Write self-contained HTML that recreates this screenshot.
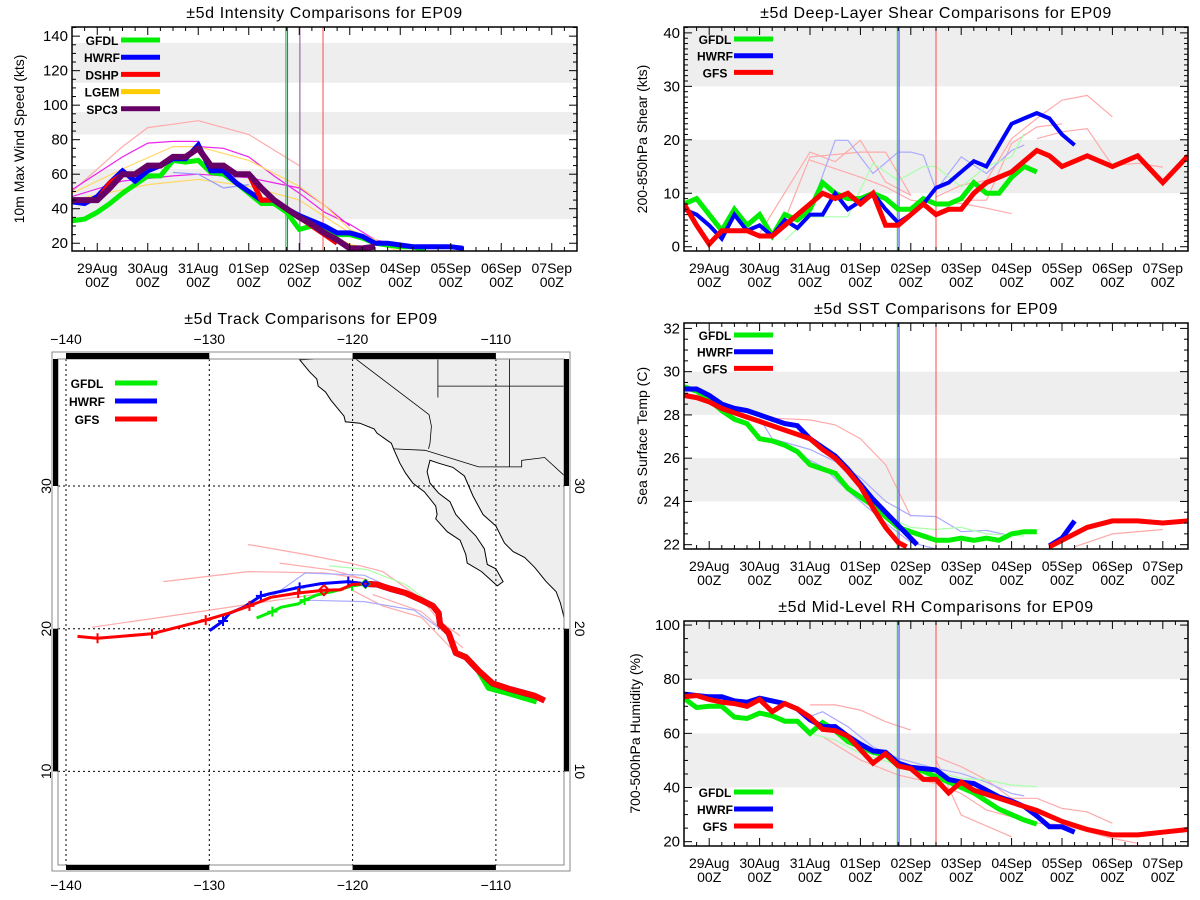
<!DOCTYPE html>
<html><head><meta charset="utf-8"><style>
html,body{margin:0;padding:0;background:#fff;}
svg{display:block;font-family:"Liberation Sans",sans-serif;}
</style></head><body>
<svg id="root" width="1200" height="900" viewBox="0 0 1200 900" xmlns="http://www.w3.org/2000/svg"></svg>
<script>
// ---------- Data (hours since 28Aug 12Z; 6-hourly unless hours given) ----------
const dayLabels = ["29Aug","30Aug","31Aug","01Sep","02Sep","03Sep","04Sep","05Sep","06Sep","07Sep"];
// Intensity (kts)
const intGFDL = [33,34,38,43,49,54,59,59,68,67,68,61,60,55,49,43,43,38,28,30,27,25,25,23,20,19,18,18,16];
const intHWRF = [44,43,47,55,62,56,62,65,69,69,77,62,62,55,50,45,45,40,36,33,30,26,26,24,20,20,19,18,18,18,18,17];
const intDSHP = [45,45,45,55,60,60,65,65,70,70,75,65,65,60,60,45,45,40,35,30,25,20];
const intLGEM = [45,45,45,52,60,60,65,65,70,70,75,65,65,60,60,52,45,40,35,30,26,22,18,17];
const intSPC3 = [45,45,45,52,60,60,65,65,70,70,75,65,65,60,60,52,45,40,35,31,26,22,17,17,18];
const intThinHours = [[0,24,36,48,60,84,108],[0,24,36,48,60],[60,72,84,96,108,120,132,144,156],[0,24,48,60,84,108,120,132],[0,24,48,60,84,108,120,132,156],[0,36,60,84,108,132,156],[48,60,72,84]];
const intThinVals = [[50,76,87,89,91,83,65],[51,70,78,79,79],[76,75,70,59,49,38,31,22,19],[47,56,59,60,58,52,42,30],[49,63,76,76,68,53,42,28,16],[45,54,57,53,45,26,15],[61,60,52,54]];
const intThinColors = ["#ffaaaa","#ee22ee","#ee22ee","#ee22ee","#ffd966","#ffd966","#9999ff"];
const intVerticals = [101.6,102.4,108.3,119.3];
const intVertColors = ["#33dd33","#5555ff","#9966aa","#ff6666"];
// Shear (kts)
const shrGFDL = [8,9,6,3,7,4,6,2,6,5,7,12,10,9,9,10,9,7,7,9,8,8,9,12,10,10,13,15,14];
const shrHWRF = [7,6,4,1.5,6,3,4,2,5,3.5,6,6,10,7,8.5,10,7,4.5,6,8,11,12,14,16,15,19,23,24,25,24,21,19];
const shrGFSHours = [0,6,12,18,24,30,36,42,48,54,60,66,72,78,84,90,96,102,108,114,120,126,132,138,144,150,156,162,168,174,180,192,204,216,228,240];
const shrGFS = [8,4,0.5,3,3,3,2,2,4,6,8,10,9,10,8,10,4,4,6,8,6,7,7,10,12,13,14,16,18,17,15,17,15,17,12,17];
const shrThinHours = [[36,60,72,84,96,108],[48,60,84,96,108],[60,72,84,96,108,120,132,144,156],[120,132,144,156,168,180,192,204],[132,144,156,168,180],[168,180,192,204,216,228],[60,72,78,90,102,108,114,120,132,144,156,162],[48,60,78,90,102,114,120,132,144,156,162]];
const shrThinVals = [[2.5,17.7,15.9,19.9,12.1,9.6],[5,16.8,17.7,17.7,9.6],[16.2,14.6,13,11.2,8.7,8.1,8.1,7.2,6.2],[9.3,11.5,12.4,20.2,24,27.4,28.3,24.3],[8.7,8.7,19.3,22.4,23],[20.2,21.5,22.1,15.2,15.6,14.9],[6.8,19.9,19.9,13.7,17.7,17.7,17.1,10.6,16.8,13.7,18,19],[1.2,5.6,5.6,15.6,12.4,15,15,11.2,15,16.8,21.2]];
const shrThinColors = ["#ffaaaa","#ffaaaa","#ffaaaa","#ffaaaa","#ffaaaa","#ffaaaa","#aaaaff","#aaffaa"];
const shrVerticals = [101.6,102.4,120];
const shrVertColors = ["#33dd33","#5555ff","#ff6666"];
// SST (C)
const sstGFDL = [29.3,29.1,28.7,28.2,27.8,27.6,26.9,26.8,26.6,26.3,25.7,25.5,25.3,24.6,24.2,23.8,23.3,22.8,22.6,22.4,22.2,22.2,22.3,22.2,22.3,22.2,22.5,22.6,22.6];
const sstHWRFHours = [0,6,12,18,24,30,36,42,48,54,60,66,72,78,84,90,96,102,108,111,null,174,180,186];
const sstHWRF = [29.2,29.2,28.9,28.5,28.3,28.2,28.0,27.8,27.6,27.5,26.9,26.5,26.1,25.5,24.8,24.1,23.5,22.9,22.3,22.0,null,21.95,22.3,23.1];
const sstGFSHours = [0,6,12,18,24,30,36,42,48,54,60,66,72,78,84,90,96,102,106,null,174,180,192,204,216,228,240];
const sstGFS = [28.9,28.8,28.6,28.3,28.1,27.9,27.7,27.5,27.3,27.1,26.9,26.4,26.0,25.4,24.7,23.7,22.8,22.1,21.9,null,21.9,22.2,22.8,23.1,23.1,23.0,23.1];
const sstThinHours = [[42,60,72,84,96,108],[36,42,60,72,84,96,108,120,132,144,156],[96,108,120,132,144,162],[186,204,228],[48,66,78,96,108,120]];
const sstThinVals = [[27.85,27.77,27.54,26.9,25.7,23.3],[27.85,26.9,26.4,25.85,25.1,24.0,23.35,23.3,22.6,22.66,22.4],[23.3,22.8,22.7,22.8,22.5,22.4],[21.9,22.5,22.7],[26.5,25.6,24.5,23.0,22.1,21.8]];
const sstThinColors = ["#ffaaaa","#aaaaff","#aaffaa","#ffaaaa","#aaaaff"];
// RH (%)
const rhGFDL = [73,69.5,70,70,66,65.5,67.5,66.5,64.5,64.5,60,64,61,57,55,53,52,48,47,46,44,42,40,38,35,32,30,28,26.5];
const rhHWRF = [74.5,74,73.5,73.5,72,71.5,73,72,71,69,65,62.5,62.5,59,56,53.5,53,49,47.5,47,46.5,43,42,41.5,39,36.5,35,33,29.5,25.5,25.5,23.5];
const rhGFSHours = [0,6,12,18,24,30,36,42,48,54,60,66,72,78,84,90,96,102,108,114,120,126,132,138,144,150,156,162,168,174,180,192,204,216,228,240];
const rhGFS = [73.5,74,72.5,71.5,71,70,72.5,68,71,69,66,61.5,61,59,54,49,52.5,48,47,43,43,38,42,39,37.5,36,34.5,33,31.5,29.5,27.5,24.5,22.5,22.5,23.5,24.5];
const rhThinHours = [[60,72,84,96,108],[120,132,144,156,168,180,192,204],[120,132,156],[66,84,102,120,132,144,156,168,180,204,216],[60,66,78,90,102,120,132,144,156,162],[60,72,84,102,120,132,144,156,168]];
const rhThinVals = [[70.5,70.5,68.6,64.3,61.2],[51.4,47.7,42.8,36,36,32.3,31,26.8],[50.2,29.8,21.8],[58.8,50.2,44.6,41.5,37.8,31.7,29.2,26.8,26.2,21.2,19.4],[66.2,68,62.5,55,50.8,47,45.2,42,37.8,36.9],[60,57.5,52.6,48.3,45.8,43.4,42.8,40.9,40.3]];
const rhThinColors = ["#ffaaaa","#ffaaaa","#ffaaaa","#ffaaaa","#aaaaff","#aaffaa"];
// Tracks (lon, lat)
const trkGFSLon = [-139.2,-137.8,-134.0,-130.25,-128.6,-127.2,-125.7,-123.8,-122.0,-120.85,-120.04,-119.1];
const trkGFSLat = [19.46,19.33,19.65,20.6,21.1,21.6,22.2,22.5,22.7,22.73,23.1,23.14];
const trkGFSCross = [1,2,3,5,7];
const trkHWRFLon = [-129.98,-129.04,-128.6,-127.6,-126.4,-125.7,-123.7,-122.2,-120.3,-119.1];
const trkHWRFLat = [19.87,20.54,21.07,21.5,22.3,22.47,22.9,23.16,23.3,23.14];
const trkHWRFCross = [1,4,6,8];
const trkGFDLLon = [-126.7,-125.6,-125.0,-123.8,-123.35,-122.5,-121.1,-120.04,-119.1];
const trkGFDLLat = [20.75,21.2,21.5,21.74,22.0,22.36,22.68,23.0,23.14];
const trkGFDLCross = [1,4,7];
const bestLon = [-119.1,-118.3,-117.4,-116.3,-115.2,-114.4,-114.0,-113.9,-113.3,-112.8,-112.1,-111.2,-110.24,-109.0,-107.3,-106.6];
const bestLat = [23.14,23.1,22.8,22.5,22.0,21.6,21.1,20.3,19.7,18.3,18.0,17.05,16.17,15.76,15.3,14.96];
const bestGFDLLon = [-112.1,-111.2,-110.5,-109.0,-107.15];
const bestGFDLLat = [18.0,17.05,15.85,15.45,14.9];
const trkThinLon = [[-127.3,-123.27,-120.04,-117.9,-115.2,-113.9,-112.5],[-133.2,-127.3,-121.9,-119.2],[-138.2,-131.3,-126,-120.6],[-125.1,-121.4,-118.9],[-120.04,-117.9,-115.2,-112.8],[-118.6,-115.2,-112.3],[-126,-123.3,-119.2,-115.2],[-123.3,-119.2,-115.7,-113.9],[-121.65,-119,-116.3,-114.7]];
const trkThinLat = [[25.9,25.2,24.56,24.0,22.1,20.5,19.5],[23.3,24.0,23.9,23.5],[20.1,21.1,21.9,22.7],[24.6,24.1,23.4],[22.7,21.6,20.8,18.3],[22.4,21.2,18.66],[22.0,23.9,23.75,21.9],[22.0,21.9,21.3,20.0],[24.4,24.15,23.1,21.9]];
const trkThinColors = ["#ffaaaa","#ffaaaa","#ffaaaa","#ffaaaa","#ffaaaa","#ffaaaa","#aaaaff","#aaaaff","#aaffaa"];
// Land outline (lon, lat)
const landLon = [-123.7,-123,-122.5,-122.4,-121.9,-121.5,-120.6,-120.5,-119.5,-118.5,-118.3,-117.3,-117.1,-116.7,-116.3,-115.8,-115.0,-114.2,-114.1,-114.2,-113.4,-112.5,-112.1,-112.0,-111.0,-109.9,-109.5,-110.0,-110.6,-110.8,-111.4,-111.9,-112.8,-113.2,-114.0,-114.6,-114.8,-114.6,-114.0,-113.0,-112.2,-111.6,-110.9,-110.0,-109.4,-108.8,-108.0,-107.3,-106.5,-105.8,-105.5,-105.3,-105.0,-100,-100];
const landLat = [38.85,38,37.5,37,36.6,36,34.9,34.5,34.4,34.0,33.7,33.0,32.5,31.6,30.9,30.2,29.6,28.6,28.0,27.7,26.8,26.2,25.2,24.6,24.0,23.0,23.3,24.2,24.5,25.6,26.5,27.0,28.0,28.9,29.5,30.2,31.0,31.8,31.6,31.3,30.7,29.3,28.0,27.2,26.0,25.4,25.0,24.3,23.3,22.6,21.8,21.0,19.5,19.5,40];
const borderLon = [[-117.1,-114.94,-111.2,-108.2,-108.2,-106.6,-105.2],[-119.9,-114.67,-114.5,-114.6,-114.7],[-114.05,-114.05],[-114.05,-105],[-109.05,-109.05]];
const borderLat = [[32.6,32.5,31.34,31.34,31.8,32.0,30.7],[39,35.0,34.2,33.0,32.6],[39,36.2],[37.0,37.0],[39,31.34]];

// ---------- helpers ----------
const NS = "http://www.w3.org/2000/svg";
const root = document.getElementById("root");
function mk(tag, attrs, parent){ const e=document.createElementNS(NS,tag); for(const k in attrs) e.setAttribute(k,attrs[k]); (parent||root).appendChild(e); return e; }
let clipId=0;

function timePanel(p){
  const g = mk("g",{});
  
  
  const L=p.x0,R=p.x1,T=p.y0,B=p.y1,W=R-L,Hh=B-T;
  const xs = h => L + h/240*W;
  const ys = v => B - (v-p.ymin)/(p.ymax-p.ymin)*Hh;
  const cid = "clip"+(clipId++);
  const cp = mk("clipPath",{id:cid},g); mk("rect",{x:L,y:T,width:W,height:Hh},cp);
  const plot = mk("g",{"clip-path":"url(#"+cid+")"},g);
  p.bands.forEach(b=>{
    const r = mk("rect",{x:L,y:ys(b[1]),width:W,height:ys(b[0])-ys(b[1]),fill:"#eeeeee"},plot);
    
    
  });
  p.thinH.forEach((hs,i)=>{
    const pts = hs.map((h,j)=>xs(h).toFixed(1)+","+ys(p.thinV[i][j]).toFixed(1)).join(" ");
    const pl = mk("polyline",{points:pts,fill:"none",stroke:p.thinC[i],"stroke-width":1.2},plot);
    
    
  });
  p.vert.forEach((h,i)=>{
    const ln = mk("line",{x1:xs(h),x2:xs(h),y1:T,y2:B,stroke:p.vertC[i],"stroke-width":1.2},plot);
    
    
  });
  p.series.forEach(s=>{
    const hrs = s.h || s.v.map((_,i)=>i*6);
    let segs=[[]];
    hrs.forEach((h,i)=>{ if(h===null||s.v[i]===null){segs.push([]);} else segs[segs.length-1].push(xs(h).toFixed(1)+","+ys(s.v[i]).toFixed(1)); });
    segs.filter(q=>q.length).forEach(q=>{
      const pl = mk("polyline",{points:q.join(" "),fill:"none",stroke:s.c,"stroke-width":s.w||5,"stroke-linejoin":"miter"},plot);
      
      
    });
  });
  const fr = mk("rect",{x:L,y:T,width:W,height:Hh,fill:"none",stroke:"#000","stroke-width":1.5},g);
  
  
  for(let h=0;h<=240;h+=6){
    const major = (h%24)===12;
    const len = major?8:4;
    mk("line",{x1:xs(h),x2:xs(h),y1:B,y2:B-len,stroke:"#000"},g);
    mk("line",{x1:xs(h),x2:xs(h),y1:T,y2:T+len,stroke:"#000"},g);
  }
  dayLabels.forEach((d,i)=>{
    const x = xs(12+24*i);
    const t1 = mk("text",{x:x,y:B+22,"text-anchor":"middle","font-size":14},g); t1.textContent=d;
    
    
    const t2 = mk("text",{x:x,y:B+36,"text-anchor":"middle","font-size":14},g); t2.textContent="00Z";
    
    
  });
  const md = p.minorDiv||4;
  for(let k=0; p.tick0 + k*p.tickStep/md <= p.ymax; k++){
    const vv = Math.round((p.tick0 + k*p.tickStep/md)*1000)/1000;
    const major = (k%md)===0;
    const len = major?8:4;
    mk("line",{x1:L,x2:L+len,y1:ys(vv),y2:ys(vv),stroke:"#000"},g);
    mk("line",{x1:R,x2:R-len,y1:ys(vv),y2:ys(vv),stroke:"#000"},g);
    if(major){
      const t = mk("text",{x:L-4,y:ys(vv)+5,"text-anchor":"end","font-size":15},g); t.textContent = vv;
      
      
    }
  }
  for(let v=p.tick0-p.tickStep/md; v>=p.ymin; v-=p.tickStep/md){
    mk("line",{x1:L,x2:L+4,y1:ys(v),y2:ys(v),stroke:"#000"},g);
    mk("line",{x1:R,x2:R-4,y1:ys(v),y2:ys(v),stroke:"#000"},g);
  }
  const yt = mk("text",{x:p.ytX,y:(T+B)/2,"text-anchor":"middle","font-size":14,transform:"rotate(-90 "+p.ytX+" "+(T+B)/2+")"},g);
  yt.textContent=p.ytitle;
  
  
  const tt = mk("text",{x:(L+R)/2,y:T-9,"text-anchor":"middle","font-size":16,"letter-spacing":"0.6"},g);
  tt.textContent=p.title;
  
  
  (p.legend||p.series).forEach((s,i)=>{
    const y = p.legY + i*p.legDy;
    const lt = mk("text",{x:p.legX+14,y:y+5,"text-anchor":"middle","font-size":12,"font-weight":"bold"},g); lt.textContent=s.n;
    
    
    const ll = mk("line",{x1:p.legX+33,x2:p.legX+72,y1:y,y2:y,stroke:s.c,"stroke-width":5},g);
    
    
  });
}

timePanel({name:"intensity-panel",x0:72,x1:577,y0:27,y1:251,ymin:15.5,ymax:145.3,tick0:20,tickStep:20,minorDiv:4,
  bands:[[34,63],[83,96],[113,136]],title:"±5d Intensity Comparisons for EP09",ytitle:"10m Max Wind Speed (kts)",ytX:24,
  thinH:intThinHours,thinV:intThinVals,thinC:intThinColors,vert:intVerticals,vertC:intVertColors,
  series:[{n:"LGEM",c:"#ffcc00",v:intLGEM,w:5},{n:"GFDL",c:"#00ee00",v:intGFDL},{n:"HWRF",c:"#0000ff",v:intHWRF},{n:"DSHP",c:"#ff0000",v:intDSHP},{n:"SPC3",c:"#660066",v:intSPC3,w:6}],
  legend:[{n:"GFDL",c:"#00ee00"},{n:"HWRF",c:"#0000ff"},{n:"DSHP",c:"#ff0000"},{n:"LGEM",c:"#ffcc00"},{n:"SPC3",c:"#660066"}],
  legX:88,legY:40,legDy:17.2});

timePanel({name:"shear-panel",x0:684,x1:1188,y0:27,y1:251,ymin:-0.8,ymax:41.1,tick0:0,tickStep:10,minorDiv:10,
  bands:[[10,20],[30,45]],title:"±5d Deep-Layer Shear Comparisons for EP09",ytitle:"200-850hPa Shear (kts)",ytX:647,
  thinH:shrThinHours,thinV:shrThinVals,thinC:shrThinColors,vert:shrVerticals,vertC:shrVertColors,
  series:[{n:"GFDL",c:"#00ee00",v:shrGFDL},{n:"HWRF",c:"#0000ff",v:shrHWRF,w:4},{n:"GFS",c:"#ff0000",v:shrGFS,h:shrGFSHours}],
  legX:701,legY:39,legDy:16.7});

timePanel({name:"sst-panel",x0:684,x1:1188,y0:323,y1:549,ymin:21.8,ymax:32.25,tick0:22,tickStep:2,minorDiv:4,
  bands:[[24,26],[28,30]],title:"±5d SST Comparisons for EP09",ytitle:"Sea Surface Temp (C)",ytX:647,
  thinH:sstThinHours,thinV:sstThinVals,thinC:sstThinColors,vert:shrVerticals,vertC:shrVertColors,
  series:[{n:"GFDL",c:"#00ee00",v:sstGFDL},{n:"HWRF",c:"#0000ff",v:sstHWRF,h:sstHWRFHours},{n:"GFS",c:"#ff0000",v:sstGFS,h:sstGFSHours}],
  legX:701,legY:335,legDy:16.7});

timePanel({name:"rh-panel",x0:684,x1:1188,y0:621,y1:846,ymin:18.4,ymax:101.5,tick0:20,tickStep:20,minorDiv:4,
  bands:[[40,60],[80,105]],title:"±5d Mid-Level RH Comparisons for EP09",ytitle:"700-500hPa Humidity (%)",ytX:640,
  thinH:rhThinHours,thinV:rhThinVals,thinC:rhThinColors,vert:shrVerticals,vertC:shrVertColors,
  series:[{n:"GFDL",c:"#00ee00",v:rhGFDL},{n:"HWRF",c:"#0000ff",v:rhHWRF},{n:"GFS",c:"#ff0000",v:rhGFS,h:rhGFSHours}],
  legX:701,legY:792,legDy:17});

// ---------- Track map ----------
(function(){
  const g = mk("g",{});
  
  
  const px = lon => 66 + (lon+140)*14.33;
  const py = lat => 486 - (lat-30)*14.27;
  const IL=58, IR=564, IT=359, IB=865, OL=52, OR=570, OT=352, OB=871;
  const cp = mk("clipPath",{id:"mapclip"},g); mk("rect",{x:IL,y:IT,width:IR-IL,height:IB-IT},cp);
  const mapg = mk("g",{"clip-path":"url(#mapclip)"},g);
  const land = mk("polygon",{points:landLon.map((l,i)=>px(l).toFixed(1)+","+py(landLat[i]).toFixed(1)).join(" "),fill:"#eeeeee",stroke:"#000","stroke-width":1},mapg);
  
  
  borderLon.forEach((bl,i)=>{
    const b = mk("polyline",{points:bl.map((l,j)=>px(l).toFixed(1)+","+py(borderLat[i][j]).toFixed(1)).join(" "),fill:"none",stroke:"#000","stroke-width":0.8},mapg);
    
    
  });
  [-140,-130,-120,-110].forEach(l=>{ const ln=mk("line",{x1:px(l),x2:px(l),y1:IT,y2:IB,stroke:"#000","stroke-dasharray":"2,3","stroke-width":1},mapg);   });
  [10,20,30].forEach(l=>{ const ln=mk("line",{x1:IL,x2:IR,y1:py(l),y2:py(l),stroke:"#000","stroke-dasharray":"2,3","stroke-width":1},mapg);   });
  trkThinLon.forEach((tl,i)=>{
    const pl = mk("polyline",{points:tl.map((l,j)=>px(l).toFixed(1)+","+py(trkThinLat[i][j]).toFixed(1)).join(" "),fill:"none",stroke:trkThinColors[i],"stroke-width":1.2},mapg);
    
    
  });
  function track(lons,lats,col,w,name){
    const pl = mk("polyline",{points:lons.map((l,j)=>px(l).toFixed(1)+","+py(lats[j]).toFixed(1)).join(" "),fill:"none",stroke:col,"stroke-width":w,"stroke-linejoin":"round"},mapg);
    
    
  }
  function crosses(lons,lats,idx,col){
    idx.forEach(i=>{
      const x=px(lons[i]), y=py(lats[i]);
      const c = mk("path",{d:`M${x-5} ${y}H${x+5}M${x} ${y-5}V${y+5}`,stroke:col,"stroke-width":2},mapg);
      
      
    });
  }
  track(bestGFDLLon,bestGFDLLat,"#00ee00",6,"gfdl-past-track");
  track(bestLon,bestLat,"#0000ff",6,"hwrf-past-track");
  track(bestLon,bestLat,"#ff0000",6,"gfs-past-track");
  track(trkGFDLLon,trkGFDLLat,"#00ee00",3,"gfdl-track");
  crosses(trkGFDLLon,trkGFDLLat,trkGFDLCross,"#00ee00");
  track(trkHWRFLon,trkHWRFLat,"#0000ff",3,"hwrf-track");
  crosses(trkHWRFLon,trkHWRFLat,trkHWRFCross,"#0000ff");
  track(trkGFSLon,trkGFSLat,"#ff0000",3,"gfs-track");
  crosses(trkGFSLon,trkGFSLat,trkGFSCross,"#ff0000");
  [[trkGFSLon[8],trkGFSLat[8],"#ff0000"],[-119.1,23.14,"#00cc00"],[-119.1,23.14,"#0000ff"]].forEach((d,i)=>{
    const x=px(d[0]), y=py(d[1]), s=5-i;
    const dm = mk("polygon",{points:`${x},${y-s} ${x+s},${y} ${x},${y+s} ${x-s},${y}`,fill:"none",stroke:d[2],"stroke-width":2},mapg);
    
    
  });
  mk("rect",{x:OL,y:OT,width:OR-OL,height:OB-OT,fill:"none",stroke:"#888","stroke-width":1},g);
  mk("rect",{x:IL,y:IT,width:IR-IL,height:IB-IT,fill:"none",stroke:"#888","stroke-width":1},g);
  [[-140,-130],[-120,-110]].forEach(s=>{
    mk("rect",{x:px(s[0]),y:OT+1,width:px(s[1])-px(s[0]),height:IT-OT-1,fill:"#000"},g);
    mk("rect",{x:px(s[0]),y:IB,width:px(s[1])-px(s[0]),height:OB-IB-1,fill:"#000"},g);
  });
  [[30,40],[10,20]].forEach(s=>{
    const y1=Math.max(py(s[1]),IT), y2=py(s[0]);
    mk("rect",{x:OL+1,y:y1,width:IL-OL-1,height:y2-y1,fill:"#000"},g);
    mk("rect",{x:IR,y:y1,width:OR-IR-1,height:y2-y1,fill:"#000"},g);
  });
  [-140,-130,-120,-110].forEach(l=>{
    [OT-8, OB+19].forEach(y=>{
      const t = mk("text",{x:px(l),y:y,"text-anchor":"middle","font-size":14},g); t.textContent = "\u2212"+Math.abs(l);
      
      
    });
  });
  [10,20,30].forEach(l=>{
    const t1 = mk("text",{x:0,y:0,"text-anchor":"middle","font-size":14,transform:`translate(51 ${py(l)}) rotate(-90)`},g); t1.textContent=l;
    
    
    const t2 = mk("text",{x:0,y:0,"text-anchor":"middle","font-size":14,transform:`translate(575 ${py(l)}) rotate(90)`},g); t2.textContent=l;
    
    
  });
  const tt = mk("text",{x:311,y:324,"text-anchor":"middle","font-size":16,"letter-spacing":"0.6"},g); tt.textContent="±5d Track Comparisons for EP09";
  
  
  [["GFDL","#00ee00"],["HWRF","#0000ff"],["GFS","#ff0000"]].forEach((e,i)=>{
    const y = 383+i*18;
    const lt = mk("text",{x:87,y:y+5,"text-anchor":"middle","font-size":12,"font-weight":"bold"},g); lt.textContent=e[0];
    
    
    const ll = mk("line",{x1:115,x2:157,y1:y,y2:y,stroke:e[1],"stroke-width":5},g);
    
    
  });
})();
</script>
</body></html>
